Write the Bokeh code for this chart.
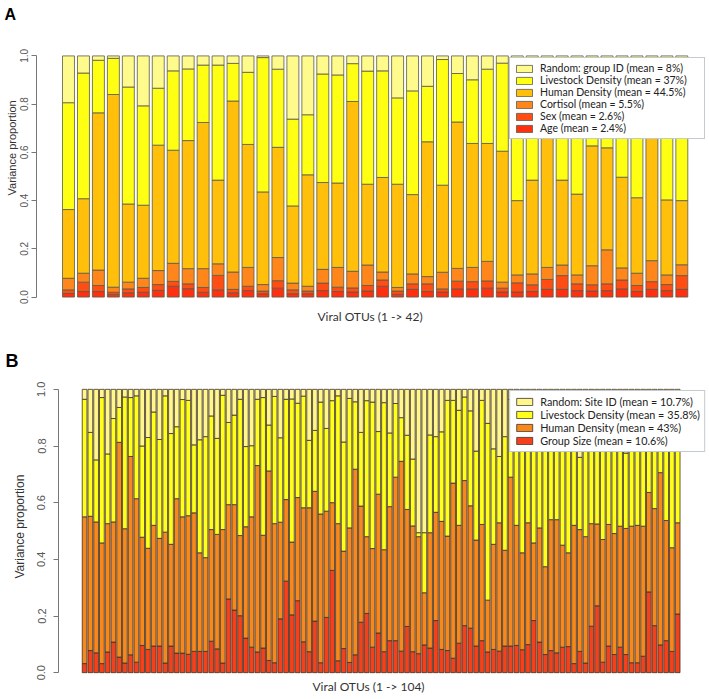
from bokeh.plotting import figure
from bokeh.models import (Range1d, FixedTicker, Legend, LegendItem, ColumnDataSource,
                          PrintfTickFormatter, Title)
from bokeh.layouts import column
from bokeh.embed import file_html
from bokeh.resources import INLINE

# ---------------- Panel A data (42 viral OTUs, variance proportions) ----------------
a_otu = list(range(1, 43))
a_age = [.015, .023, .023, .011, .018, .020, .028, .045, .035, .020, .030, .018, .027, .014,
         .037, .014, .014, .027, .023, .021, .025, .045, .012, .032, .023, .021, .034, .034,
         .037, .021, .021, .023, .032, .032, .027, .025, .027, .034, .023, .032, .027, .032]
a_sex = [.015, .039, .025, .009, .016, .020, .024, .020, .020, .020, .060, .014, .018, .011,
         .031, .016, .011, .031, .018, .017, .023, .026, .013, .023, .032, .013, .032, .030,
         .030, .016, .038, .028, .041, .057, .028, .026, .028, .037, .025, .032, .025, .057]
a_cortisol = [.048, .037, .064, .021, .028, .038, .058, .075, .063, .078, .048, .072, .078, .027,
              .096, .028, .020, .057, .082, .069, .085, .033, .015, .041, .030, .069, .053, .059,
              .081, .025, .033, .045, .050, .044, .037, .079, .141, .050, .051, .087, .040, .045]
a_human = [.285, .309, .652, .799, .324, .303, .520, .469, .531, .606, .347, .709, .510, .384,
           .457, .320, .462, .360, .350, .704, .335, .392, .428, .329, .559, .361, .607, .514,
           .489, .543, .308, .389, .577, .352, .335, .497, .423, .376, .313, .509, .311, .266]
a_livestock = [.443, .521, .218, .150, .485, .412, .236, .329, .297, .238, .477, .156, .299, .557,
               .324, .360, .249, .450, .448, .157, .469, .442, .358, .430, .230, .521, .201, .264,
               .308, .365, .507, .435, .250, .445, .533, .313, .356, .423, .543, .275, .562, .550]
a_random = [.194, .071, .018, .010, .129, .207, .134, .062, .054, .038, .038, .031, .068, .007,
            .055, .262, .244, .075, .079, .032, .063, .062, .174, .145, .126, .015, .073, .099,
            .055, .030, .093, .080, .050, .070, .040, .060, .025, .080, .045, .065, .035, .050]
a_labels = ["Age (mean = 2.4%)", "Sex (mean = 2.6%)", "Cortisol (mean = 5.5%)",
            "Human Density (mean = 44.5%)", "Livestock Density (mean = 37%)",
            "Random: group ID (mean = 8%)"]

# ---------------- Panel B data (104 viral OTUs) ----------------
b_otu = list(range(1, 105))
b_group = [.032, .078, .070, .032, .073, .108, .055, .034, .063, .037, .096, .082, .094, .094,
           .034, .094, .069, .069, .065, .075, .075, .075, .111, .084, .034, .260, .221, .201,
           .122, .090, .073, .087, .043, .035, .190, .323, .204, .254, .109, .074, .182, .035,
           .195, .361, .042, .085, .036, .063, .178, .209, .090, .140, .074, .113, .113, .076,
           .163, .074, .067, .098, .087, .184, .082, .078, .051, .104, .166, .157, .094, .113,
           .073, .082, .076, .094, .094, .096, .081, .099, .184, .108, .064, .078, .070, .090,
           .092, .032, .075, .034, .164, .236, .037, .094, .064, .090, .064, .035, .035, .058,
           .285, .166, .098, .113, .075, .207]
b_human = [.518, .474, .462, .426, .453, .424, .758, .474, .700, .577, .382, .357, .426, .380,
           .462, .359, .545, .481, .489, .489, .348, .331, .394, .404, .471, .333, .372, .283,
           .393, .460, .658, .398, .669, .491, .341, .288, .257, .364, .473, .508, .458, .525,
           .375, .239, .484, .344, .475, .655, .410, .271, .348, .490, .360, .473, .577, .670,
           .413, .444, .413, .184, .407, .382, .452, .404, .618, .416, .512, .432, .374, .410,
           .183, .371, .453, .338, .596, .424, .342, .430, .274, .403, .310, .462, .470, .360,
           .331, .488, .430, .446, .362, .289, .433, .429, .427, .427, .445, .482, .485, .459,
           .351, .413, .608, .424, .366, .322]
b_livestock = [.415, .296, .219, .513, .246, .365, .123, .465, .208, .363, .322, .391, .400, .349,
               .481, .391, .254, .414, .407, .240, .399, .427, .401, .339, .474, .290, .316, .481,
               .283, .251, .234, .486, .162, .449, .298, .354, .505, .333, .394, .238, .215, .395,
               .292, .360, .451, .385, .457, .238, .260, .480, .517, .221, .519, .260, .260, .154,
               .262, .236, .014, .212, .345, .267, .316, .479, .292, .406, .295, .335, .314, .438,
               .624, .337, .234, .401, .274, .395, .507, .371, .502, .369, .576, .380, .250, .345,
               .517, .380, .255, .480, .354, .425, .440, .447, .399, .423, .266, .413, .440, .383,
               .314, .301, .254, .383, .459, .421]
b_random = [.035, .152, .249, .029, .228, .103, .064, .027, .029, .023, .200, .170, .080, .177,
            .023, .156, .132, .036, .039, .196, .178, .167, .094, .173, .021, .117, .091, .035,
            .202, .199, .035, .029, .126, .025, .171, .035, .034, .049, .024, .180, .145, .045,
            .138, .040, .023, .186, .032, .044, .152, .040, .045, .149, .047, .154, .050, .100,
            .162, .246, .506, .506, .161, .167, .150, .039, .039, .074, .027, .076, .218, .039,
            .120, .210, .237, .167, .036, .085, .070, .100, .040, .120, .050, .080, .210, .205,
            .060, .100, .240, .040, .120, .050, .090, .030, .110, .060, .225, .070, .040, .100,
            .050, .120, .040, .080, .100, .050]
b_labels = ["Group Size (mean = 10.6%)", "Human Density (mean = 43%)",
            "Livestock Density (mean = 35.8%)", "Random: Site ID (mean = 10.7%)"]

a_colors = ["#FF3010", "#FF4D14", "#FF861A", "#FFBF0A", "#FFFF14", "#FFFA8C"]
b_colors = ["#F4411B", "#F7881C", "#FFFF1A", "#FFF78C"]

LFONT = "Liberation Sans"
CFONT = "Lato"


def style_common(p, tick_size, tick_standoff):
    p.frame_align = False
    p.xgrid.grid_line_color = None
    p.ygrid.grid_line_color = None
    p.outline_line_color = None
    p.background_fill_color = "white"
    p.border_fill_color = "white"
    ya = p.yaxis[0]
    ya.ticker = FixedTicker(ticks=[0.0, 0.2, 0.4, 0.6, 0.8, 1.0])
    ya.formatter = PrintfTickFormatter(format="%.1f")
    ya.bounds = (0, 1)
    ya.major_label_orientation = "vertical"
    ya.major_label_text_font = LFONT
    ya.major_label_text_font_size = tick_size
    ya.major_label_text_color = "#555555"
    ya.major_label_standoff = tick_standoff
    ya.axis_line_color = "#777777"
    ya.major_tick_line_color = "#777777"
    ya.major_tick_out = 5
    ya.major_tick_in = 0
    ya.minor_tick_line_color = None
    p.xaxis.visible = False


def add_titles(p, letter, letter_size, letter_offset, letter_standoff, spacer_standoff,
               ylab_size, ylab_offset, ylab_standoff, xlabel, xlab_offset, xlab_standoff):
    p.title = Title(text=letter, text_font=LFONT, text_font_style="bold",
                    text_font_size=letter_size, text_color="black", align="left",
                    vertical_align="top", offset=letter_offset, standoff=letter_standoff)
    if spacer_standoff is not None:
        p.add_layout(Title(text=" ", text_font=LFONT, text_font_size=letter_size,
                           align="left", standoff=spacer_standoff), "above")
    p.add_layout(Title(text="Variance proportion", text_font=LFONT, text_font_style="normal",
                       text_font_size=ylab_size, text_color="#333333", align="left",
                       offset=ylab_offset, standoff=ylab_standoff), "left")
    p.add_layout(Title(text=xlabel, text_font=CFONT, text_font_style="normal",
                       text_font_size="12px", text_color="#333333", align="left",
                       vertical_align="top", offset=xlab_offset, standoff=xlab_standoff),
                 "below")


def make_legend(renderers, labels, font_size, margin, padding, label_width):
    items = [LegendItem(label=lab, renderers=[r]) for r, lab in zip(renderers, labels)]
    items = items[::-1]
    lg = Legend(items=items, location="top_right")
    lg.margin = margin
    lg.padding = padding
    lg.spacing = 0
    lg.glyph_width = 20
    lg.glyph_height = 9
    lg.label_height = 9
    lg.label_width = label_width
    lg.label_standoff = 6
    lg.label_text_font = CFONT
    lg.label_text_font_size = font_size
    lg.label_text_color = "#222222"
    lg.border_line_color = "#8a96a6"
    lg.border_line_width = 1
    lg.background_fill_color = "white"
    lg.background_fill_alpha = 1.0
    return lg


# ---------------- Figure A ----------------
srcA = ColumnDataSource(dict(otu=a_otu, age=a_age, sex=a_sex, cortisol=a_cortisol,
                             human=a_human, livestock=a_livestock, random=a_random))
pA = figure(width=709, height=335, output_backend="svg", toolbar_location=None,
            x_range=Range1d(-1.139, 43.85), y_range=Range1d(-0.01, 1.01),
            min_border_left=36, min_border_right=0, min_border_top=53, min_border_bottom=34)
rA = pA.vbar_stack(["age", "sex", "cortisol", "human", "livestock", "random"], x="otu",
                   width=0.8, source=srcA, fill_color=a_colors,
                   line_color="#5a5a4a", line_width=0.8)
style_common(pA, "10px", 3)
add_titles(pA, "A", "16px", -32, 4, 8, "11px", 104, 0, "Viral OTUs (1 -> 42)", 281, 19)
pA.add_layout(make_legend(rA, a_labels, "10.5px", 4, 4, 160))

# ---------------- Figure B ----------------
srcB = ColumnDataSource(dict(otu=b_otu, group=b_group, human=b_human,
                             livestock=b_livestock, random=b_random))
pB = figure(width=709, height=364, output_backend="svg", toolbar_location=None,
            x_range=Range1d(-3.533, 109.53), y_range=Range1d(-0.01, 1.01),
            min_border_left=58, min_border_right=0, min_border_top=51, min_border_bottom=22)
rB = pB.vbar_stack(["group", "human", "livestock", "random"], x="otu",
                   width=0.82, source=srcB, fill_color=b_colors,
                   line_color="#3e3024", line_width=0.8)
style_common(pB, "11px", 8)
add_titles(pB, "B", "18px", -53, 27, None, "12px", 97, 16, "Viral OTUs (1 -> 104)", 254, 7)
pB.add_layout(make_legend(rB, b_labels, "10.8px", 4, 4, 150))

layout = column(pA, pB, spacing=0)
open("out.html", "w").write(file_html(layout, INLINE))
